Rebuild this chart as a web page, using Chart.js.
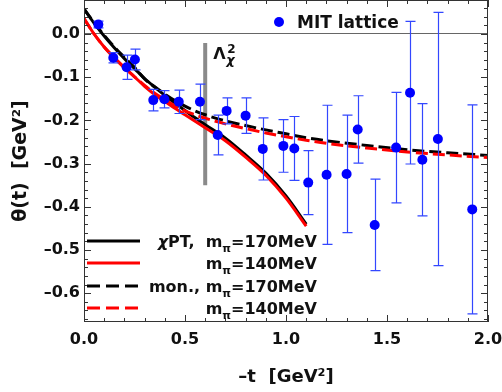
<!DOCTYPE html>
<html>
<head>
<meta charset="utf-8">
<script src="https://cdn.jsdelivr.net/npm/chart.js@4.4.1/dist/chart.umd.min.js"></script>
<style>
  html, body { margin: 0; padding: 0; background: #fff; }
  #wrap { width: 502px; height: 392px; }
</style>
</head>
<body>
<div id="wrap"><canvas id="thetaChart" width="502" height="392"></canvas></div>
<script>
// MIT lattice: -t [GeV^2], theta(t) [GeV^2], error
const latticeT = [0.071, 0.145, 0.211, 0.252, 0.343, 0.398, 0.469, 0.574, 0.662, 0.706, 0.800, 0.885,
  0.987, 1.041, 1.110, 1.201, 1.300, 1.355, 1.439, 1.545, 1.614, 1.675, 1.752, 1.922];
const latticeTheta = [0.022, -0.055, -0.077, -0.059, -0.153, -0.151, -0.157, -0.157, -0.234, -0.178, -0.189, -0.266,
  -0.259, -0.265, -0.344, -0.326, -0.324, -0.221, -0.442, -0.263, -0.136, -0.291, -0.243, -0.406];
const latticeErr = [0.008, 0.012, 0.028, 0.024, 0.025, 0.020, 0.027, 0.041, 0.046, 0.030, 0.041, 0.072,
  0.061, 0.074, 0.074, 0.161, 0.136, 0.078, 0.106, 0.128, 0.165, 0.130, 0.293, 0.242];

// chiPT curves
const chiptT = [0, 0.05, 0.1, 0.15, 0.2, 0.25, 0.3, 0.35, 0.4, 0.45, 0.5, 0.55, 0.6, 0.7, 0.8, 0.9, 1.0, 1.1];
const chipt170 = [0.058, 0.025, -0.005, -0.032, -0.057, -0.080, -0.103, -0.123, -0.142, -0.160, -0.177, -0.194,
  -0.210, -0.241, -0.280, -0.322, -0.375, -0.440];
const chipt140 = [0.036, 0.000, -0.030, -0.055, -0.078, -0.099, -0.121, -0.140, -0.156, -0.172, -0.187, -0.202,
  -0.217, -0.247, -0.285, -0.327, -0.380, -0.445];

// monopole curves
const monoT = [0, 0.05, 0.1, 0.15, 0.2, 0.25, 0.3, 0.35, 0.4, 0.45, 0.5, 0.55, 0.6, 0.7, 0.8, 0.9, 1.0, 1.1, 1.2,
  1.4, 1.6, 1.8, 2.0];
const mono170 = [0.058, 0.026, -0.003, -0.030, -0.054, -0.077, -0.104, -0.122, -0.139, -0.154, -0.167, -0.178,
  -0.187, -0.201, -0.212, -0.222, -0.231, -0.240, -0.247, -0.258, -0.268, -0.275, -0.281];
const mono140 = [0.036, 0.000, -0.030, -0.055, -0.078, -0.099, -0.119, -0.137, -0.152, -0.166, -0.178, -0.187,
  -0.195, -0.208, -0.219, -0.229, -0.238, -0.246, -0.253, -0.264, -0.273, -0.280, -0.286];

// Lambda_chi^2 marker
const lambdaT = [0.6, 0.6];
const lambdaTheta = [-0.021, -0.35];

const xTicks = [0, 0.5, 1, 1.5, 2];
const yTicks = [0, -0.1, -0.2, -0.3, -0.4, -0.5, -0.6];

const FONT = '"DejaVu Sans", sans-serif';

function toPoints(xs, ys) {
  return xs.map((x, i) => ({ x: x, y: ys[i] }));
}

function fmt(v) {
  return (v < 0 ? '\u2013' : '') + Math.abs(v).toFixed(1);
}

// error bars for the lattice points, drawn just before the dots
const errorBars = {
  id: 'errorBars',
  beforeDatasetDraw(chart, args) {
    if (args.index !== 0) return;
    const { ctx, scales: { x, y } } = chart;
    ctx.save();
    ctx.strokeStyle = '#3347ff';
    ctx.lineWidth = 1.2;
    latticeT.forEach((t, i) => {
      const px = Math.round(x.getPixelForValue(t)) + 0.5;
      const top = y.getPixelForValue(latticeTheta[i] + latticeErr[i]);
      const bot = y.getPixelForValue(latticeTheta[i] - latticeErr[i]);
      ctx.beginPath();
      ctx.moveTo(px, top); ctx.lineTo(px, bot);
      ctx.moveTo(px - 5, top); ctx.lineTo(px + 5, top);
      ctx.moveTo(px - 5, bot); ctx.lineTo(px + 5, bot);
      ctx.stroke();
    });
    ctx.restore();
  }
};

function drawRich(ctx, parts, xRight, y, size) {
  const fontOf = p => (p.it ? 'italic ' : '') + 'bold ' + (p.sub ? Math.round(size * 0.7) : size) + 'px ' + FONT;
  let w = 0;
  parts.forEach(p => { ctx.font = fontOf(p); w += ctx.measureText(p.t).width; });
  let x = xRight - w;
  parts.forEach(p => {
    ctx.font = fontOf(p);
    ctx.fillText(p.t, x, y + (p.sub ? size * 0.3 : 0));
    x += ctx.measureText(p.t).width;
  });
}

// frame with inward ticks, legends and the Lambda label
const frame = {
  id: 'frame',
  afterDraw(chart) {
    const { ctx, chartArea: a, scales: { x, y } } = chart;
    ctx.save();
    ctx.strokeStyle = '#333';
    ctx.lineWidth = 1;
    ctx.strokeRect(a.left + 0.5, a.top + 0.5, a.right - a.left - 1, a.bottom - a.top - 1);
    ctx.beginPath();
    for (let k = 0; k <= 20; k++) {
      const px = Math.round(x.getPixelForValue(k * 0.1)) + 0.5;
      const len = k % 5 === 0 ? 7 : 4;
      ctx.moveTo(px, a.bottom); ctx.lineTo(px, a.bottom - len);
      ctx.moveTo(px, a.top); ctx.lineTo(px, a.top + len);
    }
    for (let k = -33; k <= 3; k++) {
      const v = k * 0.02;
      const py = Math.round(y.getPixelForValue(v)) + 0.5;
      if (py < a.top || py > a.bottom) continue;
      const len = k % 5 === 0 ? 7 : 4;
      ctx.moveTo(a.left, py); ctx.lineTo(a.left + len, py);
      ctx.moveTo(a.right, py); ctx.lineTo(a.right - len, py);
    }
    ctx.stroke();

    // Lambda_chi^2 label
    const lx = x.getPixelForValue(lambdaT[0]) + 8;
    const ly = y.getPixelForValue(lambdaTheta[0]);
    ctx.fillStyle = '#111';
    ctx.textBaseline = 'alphabetic';
    ctx.font = 'bold 16px ' + FONT;
    ctx.fillText('\u039B', lx, ly + 16);
    ctx.font = 'bold 12px ' + FONT;
    ctx.fillText('2', lx + 14, ly + 10);
    ctx.font = 'italic bold 13px ' + FONT;
    ctx.fillText('\u03C7', lx + 13, ly + 21);

    // lattice legend
    ctx.fillStyle = '#0000ff';
    ctx.beginPath();
    ctx.arc(279, 22, 5, 0, Math.PI * 2);
    ctx.fill();
    ctx.fillStyle = '#111';
    ctx.font = 'bold 17px ' + FONT;
    ctx.fillText('MIT lattice', 297, 28);

    // curve legend
    const rows = [
      { c: '#000', dash: [], y: 241, parts: [{ t: '\u03C7', it: true }, { t: 'PT,  m' }, { t: '\u03C0', sub: true }, { t: '=170MeV' }] },
      { c: '#ff0000', dash: [], y: 263, parts: [{ t: 'm' }, { t: '\u03C0', sub: true }, { t: '=140MeV' }] },
      { c: '#000', dash: [13, 6], y: 286, parts: [{ t: 'mon., m' }, { t: '\u03C0', sub: true }, { t: '=170MeV' }] },
      { c: '#ff0000', dash: [13, 6], y: 308, parts: [{ t: 'm' }, { t: '\u03C0', sub: true }, { t: '=140MeV' }] }
    ];
    rows.forEach(r => {
      ctx.strokeStyle = r.c;
      ctx.lineWidth = 3;
      ctx.setLineDash(r.dash);
      ctx.beginPath();
      ctx.moveTo(87, r.y); ctx.lineTo(140, r.y);
      ctx.stroke();
      ctx.setLineDash([]);
      ctx.fillStyle = '#111';
      drawRich(ctx, r.parts, 317, r.y + 6, 16);
    });
    ctx.restore();
  }
};

const curveStyle = { showLine: true, pointRadius: 0, borderWidth: 3, cubicInterpolationMode: 'monotone', fill: false };

new Chart(document.getElementById('thetaChart').getContext('2d'), {
  type: 'scatter',
  data: {
    datasets: [
      {
        label: 'MIT lattice',
        data: toPoints(latticeT, latticeTheta),
        backgroundColor: '#0000ff',
        borderWidth: 0,
        pointRadius: 5,
        order: 0
      },
      { label: 'mon. 140', data: toPoints(monoT, mono140), borderColor: '#ff0000', borderDash: [12, 5], order: 1, ...curveStyle },
      { label: 'mon. 170', data: toPoints(monoT, mono170), borderColor: '#000000', borderDash: [12, 5], order: 2, ...curveStyle },
      { label: 'chiPT 140', data: toPoints(chiptT, chipt140), borderColor: '#ff0000', order: 3, ...curveStyle },
      { label: 'chiPT 170', data: toPoints(chiptT, chipt170), borderColor: '#000000', order: 4, ...curveStyle },
      {
        label: 'Lambda',
        data: toPoints(lambdaT, lambdaTheta),
        showLine: true,
        pointRadius: 0,
        borderColor: '#8a8a8a',
        borderWidth: 4,
        order: 5
      }
    ]
  },
  options: {
    responsive: false,
    animation: false,
    layout: { autoPadding: false, padding: { top: 0, right: 14, bottom: 0, left: 0 } },
    scales: {
      x: {
        type: 'linear',
        min: 0,
        max: 2,
        afterBuildTicks: scale => { scale.ticks = xTicks.map(v => ({ value: v })); },
        afterFit: scale => { scale.height = 70; scale.paddingLeft = 0; scale.paddingRight = 0; },
        grid: { display: false, drawTicks: false },
        border: { display: false },
        ticks: {
          callback: v => fmt(v),
          color: '#111',
          padding: 8,
          maxRotation: 0,
          font: { family: FONT, size: 16, weight: 'bold' }
        },
        title: {
          display: true,
          text: '\u2013t  [GeV\u00B2]',
          color: '#111',
          padding: { top: 0, bottom: 4 },
          font: { family: FONT, size: 18, weight: 'bold' }
        }
      },
      y: {
        type: 'linear',
        min: -0.6667,
        max: 0.0787,
        afterBuildTicks: scale => { scale.ticks = yTicks.map(v => ({ value: v })); },
        afterFit: scale => { scale.width = 84; scale.paddingTop = 0; scale.paddingBottom = 0; },
        grid: {
          drawTicks: false,
          color: ctx => (ctx.tick && ctx.tick.value === 0 ? '#666' : 'rgba(0,0,0,0)'),
          lineWidth: 1
        },
        border: { display: false },
        ticks: {
          callback: v => fmt(v),
          color: '#111',
          padding: 4,
          font: { family: FONT, size: 16, weight: 'bold' }
        },
        title: {
          display: true,
          text: '\u03B8(t)  [GeV\u00B2]',
          color: '#111',
          padding: { top: 10, bottom: 0 },
          font: { family: FONT, size: 19, weight: 'bold' }
        }
      }
    },
    plugins: {
      legend: { display: false },
      tooltip: { enabled: false }
    }
  },
  plugins: [errorBars, frame]
});
</script>
</body>
</html>
